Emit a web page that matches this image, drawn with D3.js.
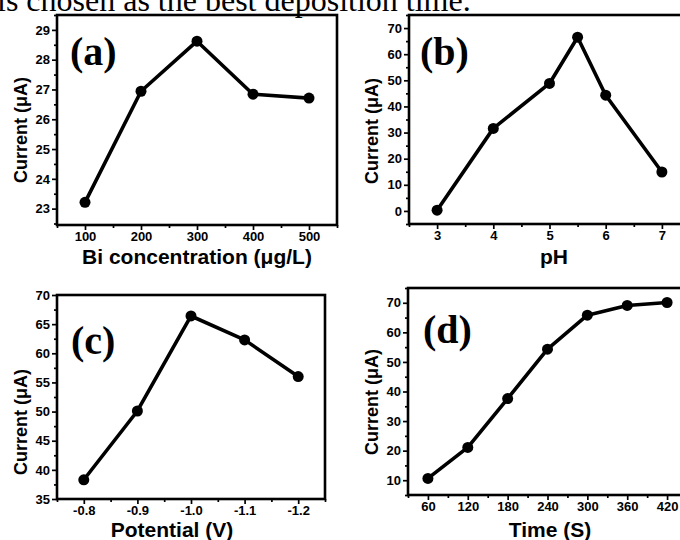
<!DOCTYPE html>
<html>
<head>
<meta charset="utf-8">
<script src="https://cdn.jsdelivr.net/npm/d3@7"></script>
<style>
  html, body { margin: 0; padding: 0; background: #fff; overflow: hidden; }
  svg { display: block; }
  .tick text { font-family: "Liberation Sans", Arial, sans-serif; font-weight: bold; font-size: 13px; fill: #000; }
  .tick line { stroke: #000; stroke-width: 1.7px; }
</style>
</head>
<body>
<svg id="chart" width="680" height="540"></svg>
<script>
// ---- data ----
const headerText = "is chosen as the best deposition time.";

const biConc = [100, 200, 300, 400, 500];
const biCurrent = [23.21, 26.94, 28.62, 26.84, 26.71];
const biXTicks = [100, 200, 300, 400, 500];
const biYTicks = [23, 24, 25, 26, 27, 28, 29];

const phValues = [3, 4, 5, 5.5, 6, 7];
const phCurrent = [0.3, 31.6, 48.8, 66.5, 44.3, 14.9];
const phXTicks = [3, 4, 5, 6, 7];
const phYTicks = [0, 10, 20, 30, 40, 50, 60, 70];

const potValues = [-0.8, -0.9, -1.0, -1.1, -1.2];
const potCurrent = [38.3, 50.1, 66.4, 62.3, 56.0];
const potXTicks = [-0.8, -0.9, -1.0, -1.1, -1.2];
const potYTicks = [35, 40, 45, 50, 55, 60, 65, 70];

const timeValues = [60, 120, 180, 240, 300, 360, 420];
const timeCurrent = [10.6, 21.1, 37.6, 54.3, 65.8, 69.1, 70.1];
const timeXTicks = [60, 120, 180, 240, 300, 360, 420];
const timeYTicks = [10, 20, 30, 40, 50, 60, 70];

const panelLabels = ["(a)", "(b)", "(c)", "(d)"];
const xTitles = ["Bi concentration (\u03BCg/L)", "pH", "Potential (V)", "Time (S)"];
const yTitle = "Current (\u03BCA)";

// ---- drawing ----
const svg = d3.select("#chart");

svg.append("text")
  .attr("x", -3).attr("y", 11)
  .attr("font-family", "'Liberation Serif', 'Times New Roman', serif")
  .attr("font-size", 32)
  .attr("fill", "#000")
  .text(headerText);

const fmtInt = d3.format("d");
const fmtHyphen = v => d3.format(".1f")(v).replace("\u2212", "-");

const panels = [
  { xs: biConc, ys: biCurrent, xDom: [50, 550], yDom: [22.45, 29.5], xTicks: biXTicks, yTicks: biYTicks,
    box: [57, 15, 337, 225], fmtX: fmtInt, fmtY: fmtInt,
    label: [70, 65], xTitle: [197, 264], yTitle: [27, 130] },
  { xs: phValues, ys: phCurrent, xDom: [2.5, 7.5], yDom: [-5, 75], xTicks: phXTicks, yTicks: phYTicks,
    box: [409, 15, 690, 224], fmtX: fmtInt, fmtY: fmtInt,
    label: [420, 65], xTitle: [554, 264], yTitle: [378, 131] },
  { xs: potValues, ys: potCurrent, xDom: [-0.75, -1.25], yDom: [35, 70], xTicks: potXTicks, yTicks: potYTicks,
    box: [57, 295, 325, 499], fmtX: fmtHyphen, fmtY: fmtInt,
    label: [71, 354], xTitle: [172, 537], yTitle: [27, 422] },
  { xs: timeValues, ys: timeCurrent, xDom: [30, 450], yDom: [5, 75], xTicks: timeXTicks, yTicks: timeYTicks,
    box: [408, 288, 687, 495], fmtX: fmtInt, fmtY: fmtInt,
    label: [423, 343], xTitle: [550, 537], yTitle: [378, 402] }
];

function midpoints(arr, dom) {
  const out = [];
  const step = arr[1] - arr[0];
  out.push(arr[0] - step / 2);
  for (let i = 0; i < arr.length; i++) out.push(arr[i] + step / 2);
  const lo = Math.min(dom[0], dom[1]) - 1e-9, hi = Math.max(dom[0], dom[1]) + 1e-9;
  return out.filter(v => v >= lo && v <= hi);
}

panels.forEach((p, i) => {
  const [x0, y0, x1, y1] = p.box;
  const x = d3.scaleLinear().domain(p.xDom).range([x0, x1]);
  const y = d3.scaleLinear().domain(p.yDom).range([y1, y0]);
  const g = svg.append("g");

  // minor ticks
  g.append("g").attr("transform", `translate(0,${y1})`)
    .call(d3.axisBottom(x).tickValues(midpoints(p.xTicks, p.xDom)).tickSize(3).tickFormat(""))
    .call(a => a.select(".domain").remove());
  g.append("g").attr("transform", `translate(${x0},0)`)
    .call(d3.axisLeft(y).tickValues(midpoints(p.yTicks, p.yDom)).tickSize(3).tickFormat(""))
    .call(a => a.select(".domain").remove());

  // major ticks
  g.append("g").attr("transform", `translate(0,${y1})`)
    .call(d3.axisBottom(x).tickValues(p.xTicks).tickSize(5).tickPadding(2).tickFormat(p.fmtX))
    .call(a => a.select(".domain").remove());
  g.append("g").attr("transform", `translate(${x0},0)`)
    .call(d3.axisLeft(y).tickValues(p.yTicks).tickSize(5).tickPadding(2).tickFormat(p.fmtY))
    .call(a => a.select(".domain").remove());

  // frame
  g.append("rect")
    .attr("x", x0).attr("y", y0).attr("width", x1 - x0).attr("height", y1 - y0)
    .attr("fill", "none").attr("stroke", "#000").attr("stroke-width", 2.6);

  const pts = p.xs.map((v, k) => [v, p.ys[k]]);
  g.append("path")
    .datum(pts)
    .attr("fill", "none").attr("stroke", "#000").attr("stroke-width", 3.6)
    .attr("stroke-linejoin", "round")
    .attr("d", d3.line().x(d => x(d[0])).y(d => y(d[1])));
  g.selectAll("circle.pt").data(pts).join("circle")
    .attr("class", "pt")
    .attr("cx", d => x(d[0])).attr("cy", d => y(d[1])).attr("r", 5.5)
    .attr("fill", "#000");

  // panel label
  g.append("text")
    .attr("x", p.label[0]).attr("y", p.label[1])
    .attr("font-family", "'Liberation Serif', 'Times New Roman', serif")
    .attr("font-weight", "bold").attr("font-size", 40).attr("fill", "#000")
    .text(panelLabels[i]);

  // x title
  g.append("text")
    .attr("x", p.xTitle[0]).attr("y", p.xTitle[1])
    .attr("text-anchor", "middle")
    .attr("font-family", "'Liberation Sans', Arial, sans-serif")
    .attr("font-weight", "bold").attr("font-size", 21).attr("fill", "#000")
    .text(xTitles[i]);

  // y title
  g.append("text")
    .attr("transform", `translate(${p.yTitle[0]},${p.yTitle[1]}) rotate(-90)`)
    .attr("text-anchor", "middle")
    .attr("font-family", "'Liberation Sans', Arial, sans-serif")
    .attr("font-weight", "bold").attr("font-size", 18).attr("fill", "#000")
    .text(yTitle);
});
</script>
</body>
</html>
